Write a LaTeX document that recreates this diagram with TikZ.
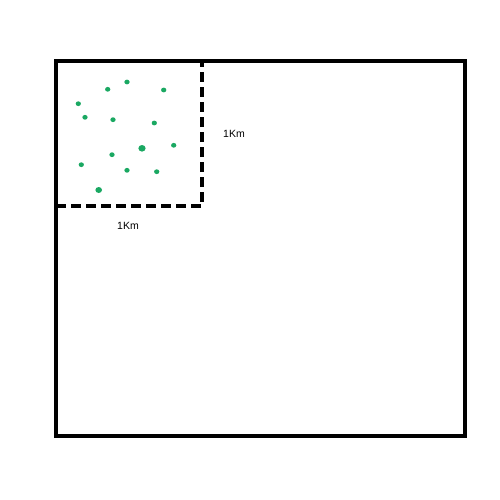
\documentclass[tikz,border=0pt]{standalone}
\usepackage{fontspec}
\setmainfont{Liberation Sans}
\definecolor{dotgreen}{HTML}{1AA862}
\begin{document}
\begin{tikzpicture}[x=1pt,y=-1pt,
  outer/.style={draw=black,line width=3.5pt},
  plot/.style={draw=black,line width=3.2pt,dash pattern=on 10pt off 5pt},
  tree/.style={fill=dotgreen,draw=none},
  lbl/.style={font=\fontsize{10.5}{12}\selectfont,inner sep=0pt}]
\useasboundingbox (0,0) rectangle (500,500);
\draw[plot] (56,206) -- (202,206) -- (202,61);
\draw[outer] (56,61) rectangle (465,436);
\foreach \x/\y/\r in {127/82/2.4, 107.7/89.3/2.4, 163.7/90/2.4, 78.3/103.7/2.4, 85/117.3/2.4, 113/119.7/2.4, 154.3/123/2.4, 142/148.3/3.3, 173.7/145.3/2.4, 112/154.7/2.4, 81.3/164.7/2.4, 127/170.3/2.4, 156.7/171.7/2.4, 98.7/190/3.0}
  \fill[tree] (\x,\y) ellipse ({\r*1.1} and \r);
\node[lbl] (lblright) at (234,134) {1Km};
\node[lbl] (lblbottom) at (128,226) {1Km};
\end{tikzpicture}
\end{document}
